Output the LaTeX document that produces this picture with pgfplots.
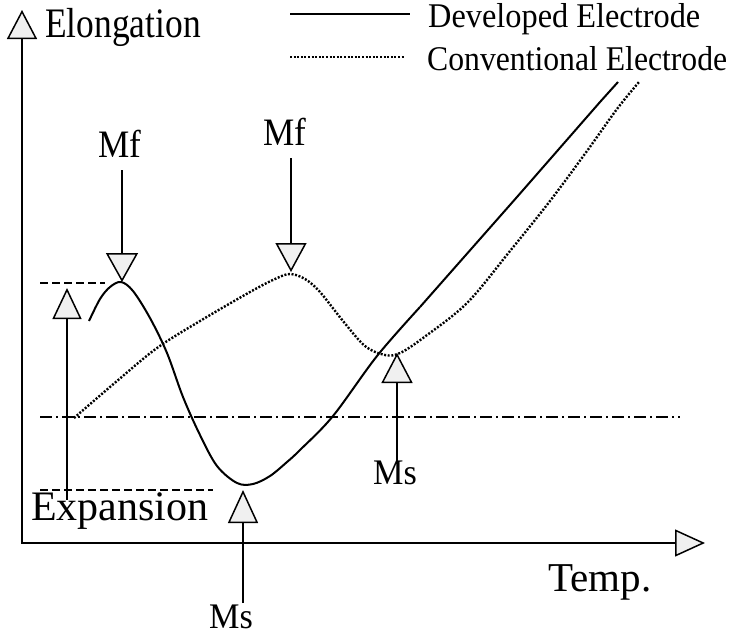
\documentclass[border=0pt]{standalone}
\usepackage{pgfplots}
\pgfplotsset{compat=1.18}
\usepackage{fontspec}
\setmainfont{Liberation Serif}
\usetikzlibrary{arrows.meta}
\begin{document}
\begin{tikzpicture}
\useasboundingbox (0,0) rectangle (735pt,635pt);
\begin{axis}[
  scale only axis, width=735pt, height=635pt,
  xmin=0, xmax=735, ymin=0, ymax=635, y dir=reverse,
  hide axis, clip=false,
]
% axes
\draw[line width=2pt,-{Triangle[open,fill=gray!12,length=29pt,width=30pt,line width=1.5pt]}] (axis cs:22,543) -- (axis cs:22,10);
\draw[line width=2pt,-{Triangle[open,fill=gray!12,length=30pt,width=27pt,line width=1.5pt]}] (axis cs:21,543) -- (axis cs:705,543);
% reference lines
\draw[line width=1.6pt,dash pattern=on 12pt off 4pt on 2pt off 4pt] (axis cs:40,417) -- (axis cs:680,417);
\draw[line width=1.6pt,dash pattern=on 8pt off 4pt] (axis cs:40,283) -- (axis cs:105,283);
\draw[line width=1.4pt,dash pattern=on 8pt off 4pt] (axis cs:40,490) -- (axis cs:213,490);
% annotation arrows
\draw[line width=1.5pt,-{Triangle[open,fill=gray!12,length=31pt,width=29pt,line width=1.5pt]}] (axis cs:67,500) -- (axis cs:67,288);
\draw[line width=1.5pt,-{Triangle[open,fill=gray!12,length=33pt,width=30pt,line width=1.5pt]}] (axis cs:243,603) -- (axis cs:243,490);
\draw[line width=1.5pt,-{Triangle[open,fill=gray!12,length=30pt,width=31pt,line width=1.5pt]}] (axis cs:397,463) -- (axis cs:397,353);
\draw[line width=1.5pt,-{Triangle[open,fill=gray!12,length=29pt,width=32pt,line width=1.5pt]}] (axis cs:122,170) -- (axis cs:122,282);
\draw[line width=2pt,-{Triangle[open,fill=gray!12,length=29pt,width=31pt,line width=1.5pt]}] (axis cs:291,158) -- (axis cs:291,272);
% developed electrode
\addplot[black, line width=2pt, smooth, tension=0.55] coordinates {
 (89,321) (100,299) (110,287) (121,282) (133,291) (150,318) (167,353) (183,397)
 (200,435) (217,466) (237,483) (253,484) (270,476) (287,462) (300,450) (333,416)
 (377,356) (420,307)};
\addplot[black, line width=2pt] coordinates {(420,307) (517,197) (600,102) (618,82)};
% conventional electrode
\addplot[black, line width=2.4pt, dash pattern=on 2pt off 1.6pt, smooth, tension=0.55] coordinates {
 (74,418) (117,381) (157,348) (200,321) (250,292) (275,279) (290,274) (305,279)
 (320,292) (343,321) (365,346) (385,355) (400,353) (423,338) (467,303) (510,251)
 (550,201) (587,151) (617,109) (639,82)};
% legend
\draw[line width=2.4pt] (axis cs:290,14) -- (axis cs:410,14);
\draw[line width=2.4pt, dash pattern=on 2pt off 1.6pt] (axis cs:290,57) -- (axis cs:405,57);
\node[anchor=base west, inner sep=0pt, font=\fontsize{33}{36}\selectfont, xscale=0.98, yscale=1.05] at (axis cs:428,27) {Developed Electrode};
\node[anchor=base west, inner sep=0pt, font=\fontsize{33}{36}\selectfont, xscale=0.96, yscale=1.05] at (axis cs:427,70) {Conventional Electrode};
% labels
\node[anchor=base west, inner sep=0pt, font=\fontsize{40}{44}\selectfont, xscale=0.886, yscale=1.05] at (axis cs:45,37) {Elongation};
\node[anchor=base west, inner sep=0pt, font=\fontsize{41}{44}\selectfont] at (axis cs:548,591) {Temp.};
\node[anchor=base west, inner sep=0pt, font=\fontsize{42}{44}\selectfont] at (axis cs:31,520) {Expansion};
\node[anchor=base, inner sep=0pt, font=\fontsize{37}{40}\selectfont, xscale=0.95, yscale=1.05] at (axis cs:120,157) {Mf};
\node[anchor=base, inner sep=0pt, font=\fontsize{37}{40}\selectfont, xscale=0.95, yscale=1.05] at (axis cs:285,145) {Mf};
\node[anchor=base, inner sep=0pt, font=\fontsize{36}{40}\selectfont, xscale=0.95] at (axis cs:231,628) {Ms};
\node[anchor=base, inner sep=0pt, font=\fontsize{36}{40}\selectfont, xscale=0.95] at (axis cs:395,484) {Ms};
\end{axis}
\end{tikzpicture}
\end{document}
